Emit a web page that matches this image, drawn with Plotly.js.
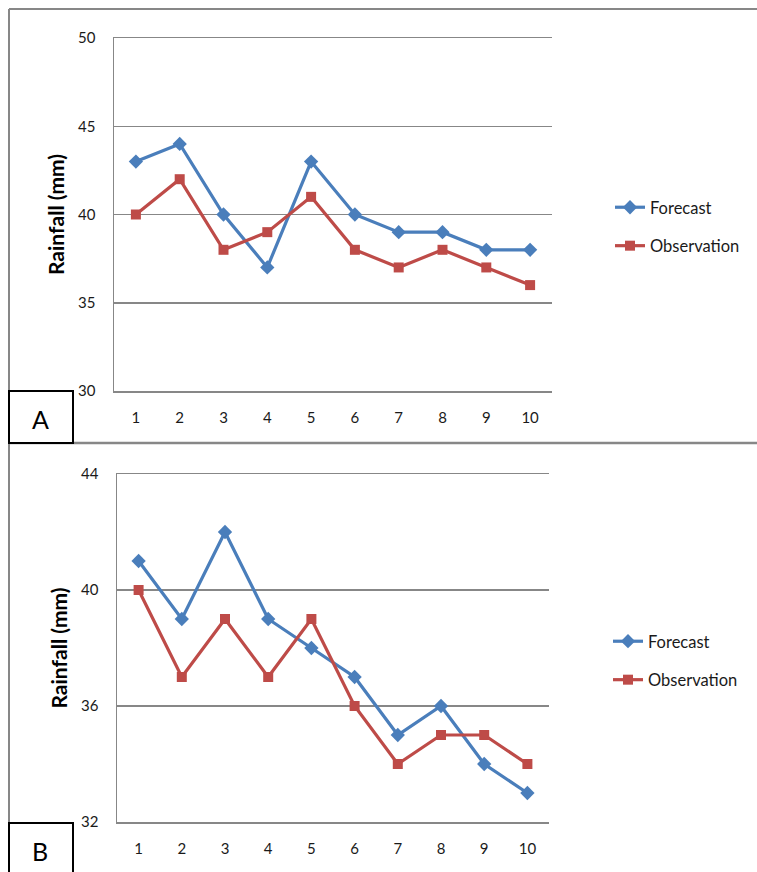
<!DOCTYPE html>
<html>
<head>
<meta charset="utf-8">
<script src="https://cdn.plot.ly/plotly-3.0.1.min.js"></script>
<style>
  html, body { margin: 0; padding: 0; background: #fff; }
  #chart { width: 757px; height: 872px; }
</style>
</head>
<body>
<div id="chart"></div>
<script>
// Rainfall forecast vs observation, two panels (A and B)
const days = ["1", "2", "3", "4", "5", "6", "7", "8", "9", "10"];

const forecastA    = [43, 44, 40, 37, 43, 40, 39, 39, 38, 38];
const observationA = [40, 42, 38, 39, 41, 38, 37, 38, 37, 36];

const forecastB    = [41, 39, 42, 39, 38, 37, 35, 36, 34, 33];
const observationB = [40, 37, 39, 37, 39, 36, 34, 35, 35, 34];

const yTicksA = [30, 35, 40, 45, 50];
const yTicksB = [32, 36, 40, 44];

const W = 757, H = 872;
const px = v => v / W;          // pixel -> paper x
const py = v => 1 - v / H;      // pixel -> paper y

const BLUE = "#4A7EBB", RED = "#BE4B48", GRID = "#878787";
const FONT = "Lato, 'Open Sans', sans-serif";

function series(x, y, name, color, symbol, size, xa, ya, legend) {
  return {
    x: x, y: y, name: name, type: "scatter", mode: "lines+markers",
    xaxis: xa, yaxis: ya, legend: legend, legendgroup: legend + name,
    line: { color: color, width: 3.2 },
    marker: { color: color, symbol: symbol, size: size }
  };
}

const data = [
  series(days, forecastA,    "Forecast",    BLUE, "diamond", 11, "x",  "y",  "legend"),
  series(days, observationA, "Observation", RED,  "square",  10, "x",  "y",  "legend"),
  series(days, forecastB,    "Forecast",    BLUE, "diamond", 11, "x2", "y2", "legend2"),
  series(days, observationB, "Observation", RED,  "square",  10, "x2", "y2", "legend2")
];

// x axis line mirrored so the top and bottom range limits show as grid lines;
// each day sits in the middle of its own slot
const xCommon = {
  type: "category", range: [-0.5, days.length - 0.5],
  showgrid: false, zeroline: false,
  showline: true, mirror: true, linecolor: GRID, linewidth: 1.5,
  ticks: "", ticklabelstandoff: 12,
  tickfont: { family: FONT, size: 15, color: "#1a1a1a" }
};
const yCommon = {
  showgrid: true, gridcolor: GRID, gridwidth: 1.5, zeroline: false,
  showline: true, linecolor: GRID, linewidth: 1.5, ticks: "",
  ticklabelstandoff: 14,
  tickfont: { family: FONT, size: 15, color: "#1a1a1a" },
  title: { text: "Rainfall (mm)", font: { family: FONT, size: 21, color: "#000", weight: "bold" }, standoff: 7 }
};

const legendCommon = {
  xanchor: "left", yanchor: "top", bgcolor: "rgba(0,0,0,0)",
  traceorder: "grouped", tracegroupgap: 14,
  font: { family: FONT, size: 16.5, color: "#1a1a1a" }
};

const frame = { color: GRID, width: 2 };
const box = { color: "#000", width: 2 };

const layout = {
  width: W, height: H,
  margin: { l: 0, r: 0, t: 0, b: 0 },
  paper_bgcolor: "#fff", plot_bgcolor: "#fff",
  showlegend: true,
  xaxis:  Object.assign({}, xCommon, { domain: [px(114), px(552)], anchor: "y" }),
  yaxis:  Object.assign({}, yCommon, { domain: [py(391), py(38)], anchor: "x", range: [30, 50], tickvals: yTicksA }),
  xaxis2: Object.assign({}, xCommon, { domain: [px(117), px(549)], anchor: "y2" }),
  yaxis2: Object.assign({}, yCommon, { domain: [py(822), py(474)], anchor: "x2", range: [32, 44], tickvals: yTicksB }),
  legend:  Object.assign({}, legendCommon, { x: px(610), y: py(190) }),
  legend2: Object.assign({}, legendCommon, { x: px(608), y: py(624) }),
  shapes: [
    // panel frames
    { type: "line", xref: "paper", yref: "paper", x0: px(9), x1: px(757), y0: py(9), y1: py(9), line: frame },
    { type: "line", xref: "paper", yref: "paper", x0: px(9), x1: px(9), y0: py(9), y1: py(872), line: frame },
    { type: "line", xref: "paper", yref: "paper", x0: px(9), x1: px(757), y0: py(443), y1: py(443), line: { color: GRID, width: 2.5 } },
    // panel label boxes
    { type: "rect", xref: "paper", yref: "paper", x0: px(9), x1: px(73), y0: py(443), y1: py(391), line: box, fillcolor: "#fff" },
    { type: "rect", xref: "paper", yref: "paper", x0: px(9), x1: px(73), y0: py(880), y1: py(823), line: box, fillcolor: "#fff" }
  ],
  annotations: [
    { text: "A", xref: "paper", yref: "paper", x: px(40), y: py(419), xanchor: "center", yanchor: "middle",
      showarrow: false, font: { family: FONT, size: 25, color: "#000" } },
    { text: "B", xref: "paper", yref: "paper", x: px(40), y: py(851), xanchor: "center", yanchor: "middle",
      showarrow: false, font: { family: FONT, size: 25, color: "#000" } }
  ]
};

Plotly.newPlot("chart", data, layout, { displayModeBar: false, staticPlot: true });
</script>
</body>
</html>
